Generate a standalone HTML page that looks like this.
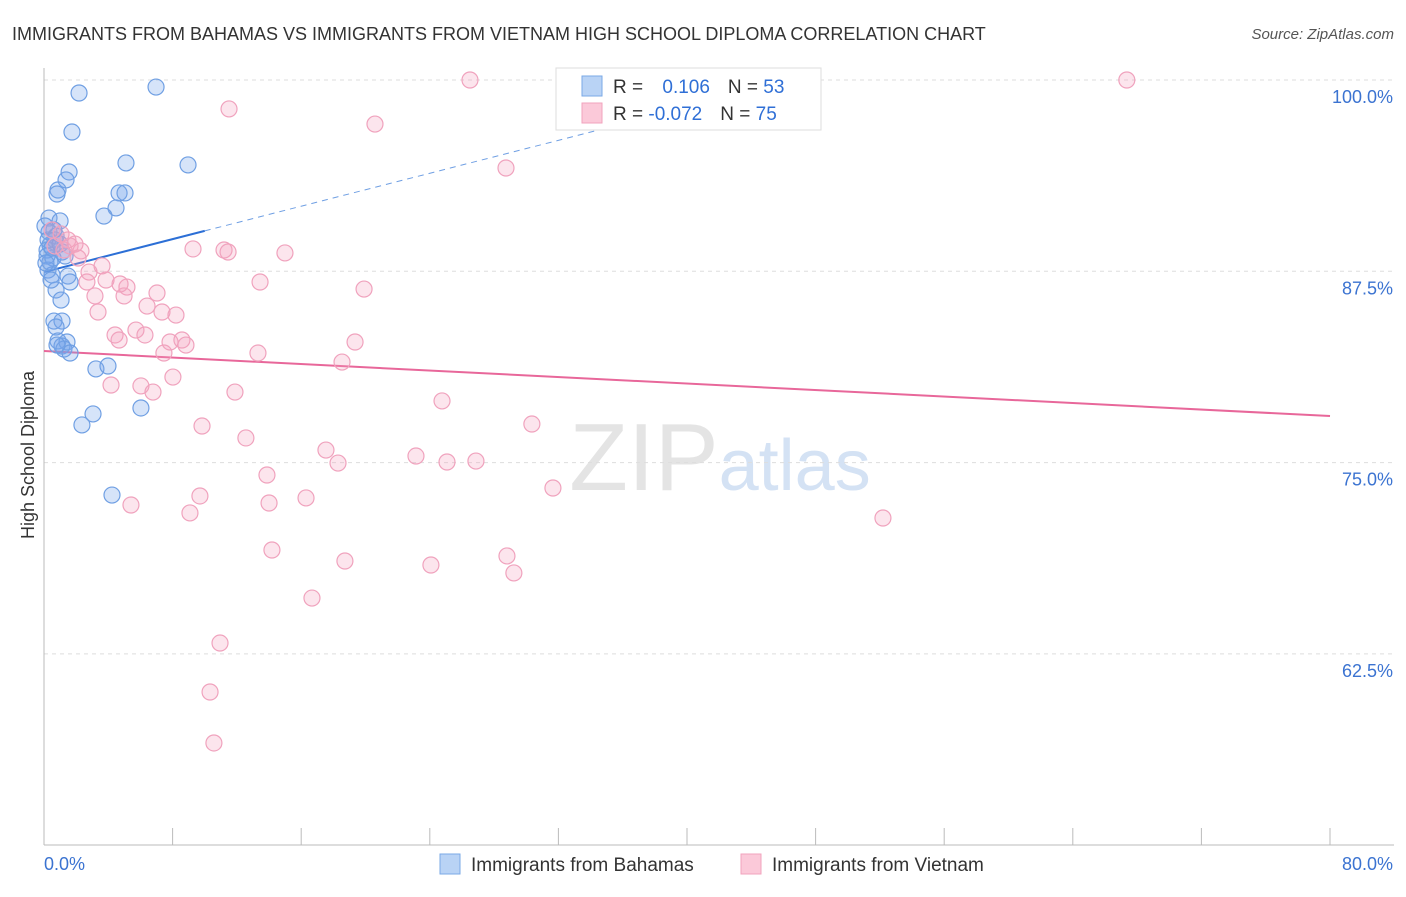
<!DOCTYPE html>
<html><head><meta charset="utf-8"><style>
body{margin:0;background:#fff;font-family:"Liberation Sans",sans-serif;}
svg text{font-family:"Liberation Sans",sans-serif;}
</style></head><body>
<svg id="chart" width="1406" height="892" xmlns="http://www.w3.org/2000/svg">
<text x="12" y="40" font-size="18" fill="#333">IMMIGRANTS FROM BAHAMAS VS IMMIGRANTS FROM VIETNAM HIGH SCHOOL DIPLOMA CORRELATION CHART</text>
<text x="1394" y="39" font-size="15" fill="#555" text-anchor="end" font-style="italic">Source: ZipAtlas.com</text>
<text x="720" y="490" font-size="96" fill="#e4e4e4" text-anchor="middle" font-family="Liberation Serif">ZIP<tspan fill="#d4e2f4" font-family="Liberation Sans" font-size="72">atlas</tspan></text>
<text transform="translate(34,455) rotate(-90)" font-size="18" fill="#333" text-anchor="middle">High School Diploma</text>
<g id="grid"></g><g id="axes"></g><g id="lines"></g><g id="pts"></g>
<g>
<rect x="556" y="68" width="265" height="62" fill="#fff" stroke="#ddd"/>
<rect x="582" y="76" width="20" height="20" fill="#b9d3f5" stroke="#7aa8e6"/>
<rect x="582" y="103" width="20" height="20" fill="#fbc9d9" stroke="#f2a3bd"/>
<text x="613" y="93" font-size="19" fill="#333">R = <tspan fill="#2f6fd6" dx="14">0.106</tspan><tspan fill="#333" dx="18">N = </tspan><tspan fill="#2f6fd6">53</tspan></text>
<text x="613" y="120" font-size="19" fill="#333">R = <tspan fill="#2f6fd6">-0.072</tspan><tspan fill="#333" dx="18">N = </tspan><tspan fill="#2f6fd6">75</tspan></text>
</g>
<g>
<rect x="440" y="854" width="20" height="20" fill="#b9d3f5" stroke="#7aa8e6"/>
<text x="471" y="871" font-size="19" fill="#333">Immigrants from Bahamas</text>
<rect x="741" y="854" width="20" height="20" fill="#fbc9d9" stroke="#f2a3bd"/>
<text x="772" y="871" font-size="19" fill="#333">Immigrants from Vietnam</text>
</g>
</svg>
<script>
const yTicks=[100,87.5,75,62.5];
const yTickLabels=["100.0%","87.5%","75.0%","62.5%"];
const xTickCount=11;
const xEndLabels=["0.0%","80.0%"];
const bahamasX=[2.18,6.97,1.74,5.10,8.96,1.56,1.37,0.87,0.81,4.67,5.04,4.48,3.73,0.31,1.00,0.62,0.31,0.75,0.37,1.12,0.19,0.56,0.25,0.50,1.49,1.62,0.75,1.06,0.62,1.12,0.75,0.87,1.43,1.12,1.24,1.62,3.23,3.98,6.03,3.05,2.36,4.23,0.19,0.37,0.68,0.25,1.31,0.50,1.00,0.06,0.81,0.44,0.12];
const bahamasY=[99.15,99.54,96.60,94.58,94.45,93.99,93.47,92.81,92.55,92.62,92.62,91.64,91.11,90.98,90.79,90.20,90.07,89.81,89.22,88.76,88.50,88.37,87.58,87.26,87.19,86.80,86.28,85.62,84.25,84.25,83.86,82.95,82.88,82.62,82.42,82.16,81.12,81.31,78.57,78.18,77.46,72.88,88.89,88.11,89.55,89.55,88.50,89.02,89.28,90.46,82.68,86.93,88.04];
const vietnamX=[26.50,67.36,11.51,20.59,28.74,0.50,1.06,1.49,1.93,0.68,2.30,1.24,9.27,11.20,11.45,14.99,3.61,2.80,2.67,3.86,13.44,19.91,5.16,7.03,3.17,4.98,6.41,3.36,7.34,8.21,4.42,5.72,6.28,4.67,7.84,8.58,8.83,19.35,7.46,13.31,18.54,8.02,4.17,6.03,6.78,11.88,24.76,9.83,30.35,12.56,17.54,18.29,23.14,25.07,26.87,13.87,31.66,9.70,16.30,5.41,14.00,9.08,52.19,14.18,28.80,18.72,24.07,29.23,16.67,10.95,10.33,10.57,1.62,2.12,4.73];
const vietnamY=[100,100,98.11,97.12,94.25,90.20,89.94,89.55,89.28,89.15,88.83,88.89,88.96,88.89,88.76,88.70,87.85,87.45,86.80,86.93,86.80,86.34,86.47,86.08,85.89,85.89,85.23,84.84,84.84,84.64,83.34,83.66,83.34,83.01,82.88,83.01,82.68,82.88,82.16,82.16,81.57,80.59,80.07,80.01,79.61,79.61,79.03,77.39,77.52,76.61,75.82,74.97,75.43,75.04,75.10,74.19,73.34,72.82,72.69,72.23,72.36,71.71,71.38,69.29,68.90,68.57,68.31,67.79,66.15,63.21,60.01,56.68,89.15,88.37,86.67];
const bahamasTrend=[87.45,0.269];   // intercept, slope
const vietnamTrend=[82.29,-0.0531];
const X0=44,X1=1330,Y100=80,PXPER=15.304;
const sx=v=>X0+(v/80)*(X1-X0);
const sy=v=>Y100+(100-v)*PXPER;
const NS="http://www.w3.org/2000/svg";
function mk(tag,attrs,parent){const e=document.createElementNS(NS,tag);for(const k in attrs)e.setAttribute(k,attrs[k]);parent.appendChild(e);return e;}
const grid=document.getElementById('grid'),axes=document.getElementById('axes'),lines=document.getElementById('lines'),pts=document.getElementById('pts');
yTicks.forEach((t,i)=>{
 const l=mk('line',{x1:X0,x2:1394,y1:sy(t),y2:sy(t),stroke:'#ddd','stroke-dasharray':'4,4'},grid);
 
 
 const tx=mk('text',{x:1393,y:sy(t)+23,'font-size':18,fill:'#3b73d1','text-anchor':'end'},axes);
 tx.textContent=yTickLabels[i];
 
 
});
const ya=mk('line',{x1:X0,x2:X0,y1:68,y2:845,stroke:'#bbb'},axes);


const xa=mk('line',{x1:X0,x2:1394,y1:845,y2:845,stroke:'#bbb'},axes);


for(let i=0;i<xTickCount;i++){
 const v=i*8;
 const tk=mk('line',{x1:sx(v),x2:sx(v),y1:828,y2:845,stroke:'#bbb'},axes);
 
 
}
const xl0=mk('text',{x:44,y:870,'font-size':18,fill:'#3b73d1'},axes);xl0.textContent=xEndLabels[0];


const xl1=mk('text',{x:1393,y:870,'font-size':18,fill:'#3b73d1','text-anchor':'end'},axes);xl1.textContent=xEndLabels[1];


// points
bahamasX.forEach((x,i)=>{
 const c=mk('circle',{cx:sx(x),cy:sy(bahamasY[i]),r:8,fill:'rgba(120,165,235,0.3)',stroke:'#6f9fe3','stroke-width':1.2},pts);
 
 
});
vietnamX.forEach((x,i)=>{
 const c=mk('circle',{cx:sx(x),cy:sy(vietnamY[i]),r:8,fill:'rgba(245,160,190,0.28)',stroke:'#f0a2bd','stroke-width':1.2},pts);
 
 
});
// trends
const bEnd=10, bDashEnd=(100-bahamasTrend[0])/bahamasTrend[1];
const bl=mk('line',{x1:sx(0),y1:sy(bahamasTrend[0]),x2:sx(bEnd),y2:sy(bahamasTrend[0]+bahamasTrend[1]*bEnd),stroke:'#2c6fd6','stroke-width':2},lines);


const bd=mk('line',{x1:sx(bEnd),y1:sy(bahamasTrend[0]+bahamasTrend[1]*bEnd),x2:sx(bDashEnd),y2:sy(100),stroke:'#6f9fe3','stroke-width':1,'stroke-dasharray':'6,5'},lines);


const vl=mk('line',{x1:sx(0),y1:sy(vietnamTrend[0]),x2:sx(80),y2:sy(vietnamTrend[0]+vietnamTrend[1]*80),stroke:'#e8679a','stroke-width':2},lines);


</script>
</body></html>
